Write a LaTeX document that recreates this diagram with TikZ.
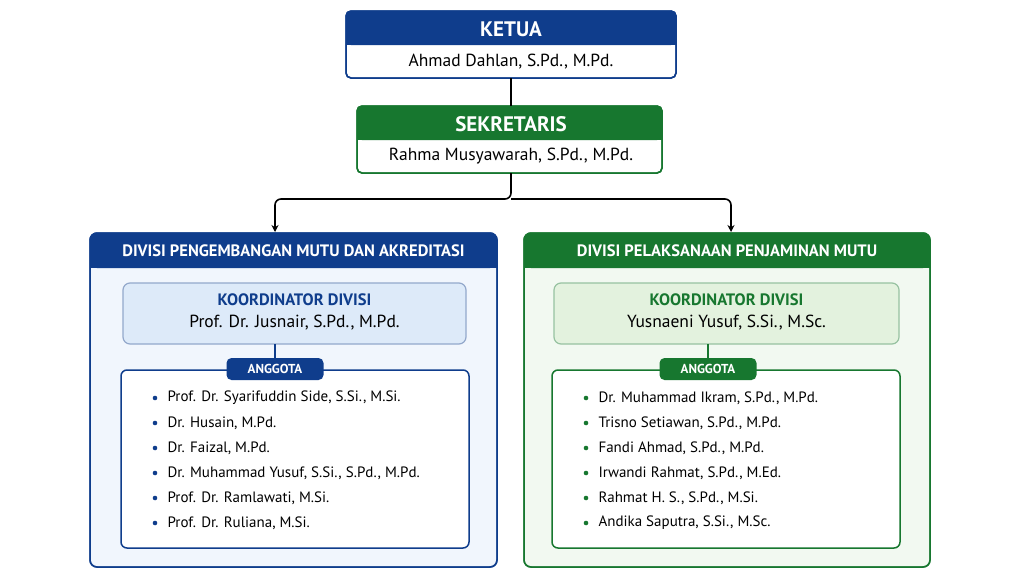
\documentclass[tikz,border=0pt]{standalone}
\usepackage{fontspec}
\setmainfont{PT Sans}
\usetikzlibrary{arrows.meta}
\definecolor{bl}{HTML}{0F3D8C}
\definecolor{gr}{HTML}{17772F}
\definecolor{blbg}{HTML}{F1F6FD}
\definecolor{grbg}{HTML}{F2F9F1}
\definecolor{blk}{HTML}{DDEAF9}
\definecolor{grk}{HTML}{E3F2DE}
\tikzset{
 hdr/.style={font=\bfseries\fontsize{21}{21}\selectfont, text=white},
 nm/.style={font=\fontsize{17.5}{17.5}\selectfont},
 dh/.style={font=\bfseries\fontsize{16.5}{16.5}\selectfont, text=white},
 kt/.style={font=\bfseries\fontsize{16.5}{16.5}\selectfont},
 pill/.style={rounded corners=5pt, font=\bfseries\fontsize{13}{13}\selectfont, text=white, minimum width=97pt, minimum height=22pt},
 mem/.style={font=\fontsize{15}{15}\selectfont, anchor=west},
 conn/.style={line width=1.6pt, black},
}
\begin{document}
\begin{tikzpicture}[x=1pt,y=-1pt]
\useasboundingbox (0,0) rectangle (1024,576);
\fill[white] (0,0) rectangle (1024,576);
% KETUA
\draw[bl, line width=1.5pt, rounded corners=5pt, fill=white] (346,11) rectangle (676,78);
\fill[bl, rounded corners=5pt] (346,11) rectangle (676,45);
\fill[bl] (346,35) rectangle (676,45);
\draw[bl, line width=1.5pt, rounded corners=5pt] (346,11) rectangle (676,78);
\node[hdr] (ket) at (511,29) {KETUA};
\node[nm] (ketn) at (511,62) {Ahmad Dahlan, S.Pd., M.Pd.};
\coordinate (ketb) at (511,78);
% SEKRETARIS
\draw[gr, line width=1.5pt, rounded corners=5pt, fill=white] (357,106) rectangle (662,173);
\fill[gr, rounded corners=5pt] (357,106) rectangle (662,140);
\fill[gr] (357,130) rectangle (662,140);
\draw[gr, line width=1.5pt, rounded corners=5pt] (357,106) rectangle (662,173);
\node[hdr] (sek) at (511,124) {SEKRETARIS};
\node[nm] (sekn) at (511,156) {Rahma Musyawarah, S.Pd., M.Pd.};
\coordinate (sekt) at (511,106);
\coordinate (sekb) at (511,173);
\draw[conn] (ketb) -- (sekt);
\coordinate (la) at (275,232);
\coordinate (ra) at (731,232);
\draw[conn, rounded corners=6pt, -{Stealth[length=7pt,width=7pt]}] (sekb) -- (511,199) -- (275,199) -- (la);
\draw[conn, rounded corners=6pt, -{Stealth[length=7pt,width=7pt]}] (511,199) -- (731,199) -- (ra);
% divisions
\foreach \xa/\xb/\c/\bg/\kb/\kx/\ky/\mx/\my/\lx/\t/\k in {
 90/497/bl/blbg/blk/123/466/121/469/275/{DIVISI PENGEMBANGAN MUTU DAN AKREDITASI}/{Prof. Dr. Jusnair, S.Pd., M.Pd.},
 524/930/gr/grbg/grk/554/899/552/900/708/{DIVISI PELAKSANAAN PENJAMINAN MUTU}/{Yusnaeni Yusuf, S.Si., M.Sc.}}{
 \draw[\c, line width=1.5pt, rounded corners=7pt, fill=\bg] (\xa,233) rectangle (\xb,567);
 \fill[\c, rounded corners=7pt] (\xa,233) rectangle (\xb,268);
 \fill[\c] (\xa,258) rectangle (\xb,268);
 \draw[\c, line width=1.5pt, rounded corners=7pt] (\xa,233) rectangle (\xb,567);
 \node[dh] at ({(\xa+\xb)/2},251) {\t};
 \draw[\c!45, line width=1.2pt, rounded corners=7pt, fill=\kb] (\kx,283) rectangle (\ky,344);
 \node[kt, text=\c] at ({(\kx+\ky)/2},300) {KOORDINATOR DIVISI};
 \node[nm] at ({(\kx+\ky)/2},323) {\k};
 \draw[\c, line width=1.5pt, rounded corners=6pt, fill=white] (\mx,370) rectangle (\my,548);
 \draw[\c, line width=1.2pt] (\lx,344) -- (\lx,360);
 \node[pill, fill=\c] at (\lx,369) {ANGGOTA};
}
\foreach \n [count=\i] in {{Prof. Dr. Syarifuddin Side, S.Si., M.Si.}, {Dr. Husain, M.Pd.}, {Dr. Faizal, M.Pd.}, {Dr. Muhammad Yusuf, S.Si., S.Pd., M.Pd.}, {Prof. Dr. Ramlawati, M.Si.}, {Prof. Dr. Ruliana, M.Si.}}{
 \fill[bl] (155,{373+25*\i}) circle (2.3pt);
 \node[mem] at (164,{373+25*\i}) {\n};
}
\foreach \n [count=\i] in {{Dr. Muhammad Ikram, S.Pd., M.Pd.}, {Trisno Setiawan, S.Pd., M.Pd.}, {Fandi Ahmad, S.Pd., M.Pd.}, {Irwandi Rahmat, S.Pd., M.Ed.}, {Rahmat H. S., S.Pd., M.Si.}, {Andika Saputra, S.Si., M.Sc.}}{
 \fill[gr] (586,{373+25*\i}) circle (2.3pt);
 \node[mem] at (595,{373+25*\i}) {\n};
}
\end{tikzpicture}
\end{document}
